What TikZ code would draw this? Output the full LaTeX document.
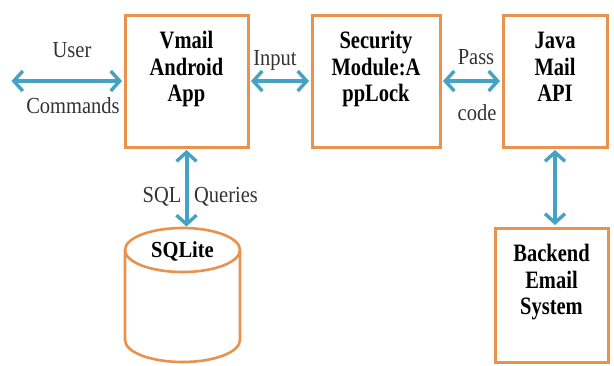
\documentclass[tikz,border=0pt]{standalone}
\usepackage{fontspec}
\setmainfont{Liberation Serif}
\usetikzlibrary{arrows.meta}
\definecolor{boxor}{HTML}{E8924E}
\definecolor{arrbl}{HTML}{45A2C4}
\newcommand{\vstack}[1]{\scalebox{1}[1.22]{\begin{tabular}{@{}c@{}}#1\end{tabular}}}
\newcommand{\vlab}[1]{\scalebox{1}[1.12]{#1}}
\begin{document}
\begin{tikzpicture}[x=1pt,y=-1pt,
  box/.style={draw=boxor, line width=3pt, minimum width=#1, inner sep=0pt},
  boxtext/.style={anchor=north, inner sep=0pt, font=\fontsize{20.5}{21.7}\selectfont\bfseries},
  lab/.style={font=\fontsize{20.5}{24}\selectfont, text=black!80},
  tip/.style={Straight Barb[length=9pt,width=20pt,line width=3.4pt]},
  dar/.style={draw=arrbl, line width=4pt, {Straight Barb[length=9pt,width=20pt,line width=3.4pt]}-{Straight Barb[length=9pt,width=20pt,line width=3.4pt]}, shorten <=1.5pt, shorten >=1.5pt}]
\useasboundingbox (0,0) rectangle (614,365);
% boxes
\node[box=123pt, minimum height=132pt] (vmail) at (186.5,81) {};
\node[box=128pt, minimum height=132pt] (sec) at (376,81) {};
\node[box=104pt, minimum height=132pt] (java) at (555,81) {};
\node[box=113pt, minimum height=134pt] (back) at (551.5,295) {};
% box texts
\node[boxtext] (vmailt) at (186.5,30) {\vstack{Vmail\\Android\\App}};
\node[boxtext] (sect) at (376,30) {\vstack{Security\\Module:A\\ppLock}};
\node[boxtext] (javat) at (555,30) {\vstack{Java\\Mail\\API}};
\node[boxtext] (backt) at (551.5,243) {\vstack{Backend\\Email\\System}};
% cylinder
\draw[draw=boxor, line width=2.6pt] (125,250) -- (125,340) arc[start angle=180, end angle=0, x radius=57.5, y radius=22] -- (240,250);
\draw[draw=boxor, line width=2.6pt] (182.5,250) ellipse[x radius=57.5, y radius=22];
\coordinate (dbtop) at (182.5,228);
\node[font=\fontsize{20.5}{24}\selectfont\bfseries] (sqlite) at (182.5,251) {\vlab{SQLite}};
% connectors
\coordinate (userend) at (10,81);
\draw[dar] (userend) -- (vmail.west);
\draw[dar] (vmail.east) -- (sec.west);
\draw[dar] (sec.east) -- (java.west);
\draw[dar] (vmail.south) -- (vmail.south |- dbtop);
\draw[dar] (java.south) -- (java.south |- back.north);
% labels
\node[lab] (user) at (72,50) {\vlab{User}};
\node[lab] (cmd) at (73,106) {\vlab{Commands}};
\node[lab] (input) at (275,60) {\vlab{Input}};
\node[lab] (pass) at (476,57) {\vlab{Pass}};
\node[lab] (code) at (477,113) {\vlab{code}};
\node[lab] (sql) at (162,197) {\vlab{SQL}};
\node[lab] (quer) at (226,197) {\vlab{Queries}};
\end{tikzpicture}
\end{document}
